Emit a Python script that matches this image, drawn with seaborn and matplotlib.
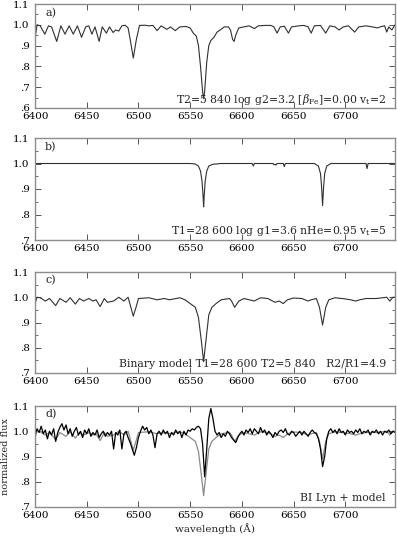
import numpy as np
import pandas as pd
import matplotlib
matplotlib.use("Agg")
import matplotlib.pyplot as plt
from matplotlib.ticker import MultipleLocator, FixedLocator, FixedFormatter
import seaborn as sns

# ---------------- data ----------------
# panel a: cool component model (T2 = 5840 K)
a_wave = [6400, 6402, 6405, 6409.5, 6413, 6416, 6421, 6425, 6429, 6433, 6437, 6441,
          6445, 6449, 6452, 6455, 6458, 6462, 6465, 6469, 6472, 6475.5, 6478, 6481,
          6484, 6487, 6490, 6492, 6495, 6498, 6501, 6506, 6510, 6514, 6518, 6522,
          6527.5, 6531, 6535.5, 6540, 6546, 6550, 6553, 6556, 6558, 6560, 6562, 6563,
          6564, 6566, 6568, 6570, 6573, 6576, 6579, 6583, 6587, 6589, 6591, 6592.5,
          6594, 6597, 6602, 6607, 6612, 6616, 6622, 6628, 6631, 6634, 6637, 6641,
          6645, 6648, 6655, 6660, 6664, 6667, 6670, 6676, 6681, 6685, 6690, 6694,
          6698, 6703, 6709, 6713, 6720, 6726, 6731, 6735, 6738, 6740, 6742, 6745, 6748]
a_flux = [0.935, 1.0, 0.995, 0.955, 0.995, 0.99, 0.92, 0.995, 0.955, 0.995, 0.955, 0.995,
          0.94, 0.99, 0.995, 0.955, 0.99, 0.92, 0.99, 0.96, 0.99, 0.963, 0.975, 0.97,
          0.995, 0.998, 0.985, 0.93, 0.84, 0.93, 0.997, 0.998, 0.995, 0.997, 0.972, 0.995,
          0.978, 0.99, 0.972, 0.99, 0.992, 0.985, 0.96, 0.945, 0.90, 0.80, 0.68, 0.645,
          0.68, 0.82, 0.90, 0.925, 0.94, 0.965, 0.975, 0.99, 0.99, 0.975, 0.93, 0.92,
          0.95, 0.985, 0.99, 0.995, 0.982, 0.995, 0.997, 0.997, 0.99, 0.96, 0.99, 0.993,
          0.96, 0.99, 0.995, 0.997, 0.99, 0.96, 0.995, 0.997, 0.96, 0.995, 0.99, 0.975,
          0.99, 0.995, 0.965, 0.99, 0.995, 0.99, 0.985, 0.992, 0.995, 0.965, 0.99, 0.975, 1.0]

# panel b: hot component model (T1 = 28600 K)
b_wave = [6400, 6550, 6555, 6558, 6560, 6561.5, 6562.5, 6563, 6563.5, 6564.5, 6566,
          6568, 6572, 6580, 6610, 6611, 6612, 6630, 6631, 6632, 6633, 6634, 6640,
          6641, 6642, 6670, 6674, 6676, 6677, 6678, 6679, 6680, 6682, 6686, 6720,
          6721, 6722, 6748]
b_flux = [1.0, 1.0, 0.998, 0.99, 0.97, 0.93, 0.87, 0.83, 0.87, 0.93, 0.97,
          0.99, 0.997, 1.0, 1.0, 0.99, 1.0, 1.0, 0.995, 0.997, 0.994, 1.0, 1.0,
          0.988, 1.0, 1.0, 0.99, 0.96, 0.91, 0.835, 0.91, 0.96, 0.99, 1.0, 1.0,
          0.98, 1.0, 1.0]

# panel c: binary model
c_wave = [6400, 6402, 6405, 6410, 6414, 6420, 6424, 6430, 6434, 6439, 6443, 6447,
          6452, 6456, 6459, 6463, 6467, 6470, 6476, 6481, 6486, 6490, 6492, 6495,
          6498, 6500, 6510, 6518, 6525, 6530, 6540, 6545, 6550, 6555, 6558, 6561,
          6563, 6565, 6568, 6571, 6575, 6580, 6588, 6590, 6593, 6597, 6602, 6607,
          6612, 6618, 6625, 6632, 6636, 6640, 6644, 6650, 6658, 6664, 6667, 6672,
          6675, 6678, 6681, 6684, 6690, 6697, 6705, 6710, 6714, 6720, 6730, 6740,
          6743, 6746, 6748]
c_flux = [0.975, 1.0, 0.998, 0.985, 0.995, 0.967, 0.995, 0.98, 0.998, 0.973, 0.995, 0.985,
          0.995, 0.985, 0.99, 0.963, 0.995, 0.98, 0.985, 1.0, 0.985, 1.0, 0.97, 0.925,
          0.965, 0.995, 0.998, 0.99, 0.995, 0.99, 0.998, 0.99, 0.975, 0.96, 0.92, 0.82,
          0.745, 0.82, 0.93, 0.96, 0.975, 0.99, 0.995, 0.985, 0.96, 0.985, 0.995, 0.99,
          0.985, 0.998, 0.995, 0.98, 0.985, 0.975, 0.99, 0.997, 0.995, 0.985, 0.99, 0.995,
          0.96, 0.89, 0.96, 0.99, 0.998, 0.995, 0.99, 0.985, 0.99, 0.995, 0.995, 1.0,
          0.985, 1.0, 1.0]

# panel d: observed spectrum of BI Lyn (2 A sampling)
d_wave = [6400, 6402, 6404, 6406, 6408, 6410, 6412, 6414, 6416, 6418,
          6420, 6422, 6424, 6426, 6428, 6430, 6432, 6434, 6436, 6438,
          6440, 6442, 6444, 6446, 6448, 6450, 6452, 6454, 6456, 6458,
          6460, 6462, 6464, 6466, 6468, 6470, 6472, 6474, 6476, 6478,
          6480, 6482, 6484, 6486, 6488, 6490, 6492, 6494, 6496, 6498,
          6500, 6502, 6504, 6506, 6508, 6510, 6512, 6514, 6516, 6518,
          6520, 6522, 6524, 6526, 6528, 6530, 6532, 6534, 6536, 6538,
          6540, 6542, 6544, 6546, 6548, 6550, 6552, 6554, 6556, 6558,
          6560, 6562, 6564, 6566, 6568, 6570, 6572, 6574, 6576, 6578,
          6580, 6582, 6584, 6586, 6588, 6590, 6592, 6594, 6596, 6598,
          6600, 6602, 6604, 6606, 6608, 6610, 6612, 6614, 6616, 6618,
          6620, 6622, 6624, 6626, 6628, 6630, 6632, 6634, 6636, 6638,
          6640, 6642, 6644, 6646, 6648, 6650, 6652, 6654, 6656, 6658,
          6660, 6662, 6664, 6666, 6668, 6670, 6672, 6674, 6676, 6678,
          6680, 6682, 6684, 6686, 6688, 6690, 6692, 6694, 6696, 6698,
          6700, 6702, 6704, 6706, 6708, 6710, 6712, 6714, 6716, 6718,
          6720, 6722, 6724, 6726, 6728, 6730, 6732, 6734, 6736, 6738,
          6740, 6742, 6744, 6746, 6748]
d_flux = [0.985, 1.01, 0.995, 1.02, 0.99, 1.005, 0.97, 1.0, 0.985, 1.01,
          0.96, 0.995, 1.015, 1.03, 1.005, 1.025, 0.99, 1.01, 0.98, 1.0,
          1.015, 0.985, 1.0, 0.975, 1.005, 0.99, 1.01, 0.98, 0.995, 0.985,
          1.005, 0.975, 0.99, 1.0, 0.98, 0.995, 0.985, 1.0, 0.93, 0.995,
          0.985, 1.005, 0.93, 0.99, 1.0, 0.975, 0.955, 0.93, 0.905, 0.935,
          0.975, 1.0, 1.02, 1.005, 1.015, 0.99, 1.005, 0.985, 0.935, 0.99,
          1.0, 0.985, 1.005, 0.99, 1.0, 0.975, 0.995, 0.985, 1.005, 0.99,
          1.0, 0.975, 1.0, 0.985, 1.005, 1.0, 1.01, 1.005, 1.015, 1.02,
          1.01, 0.95, 0.82, 0.93, 1.05, 1.09, 1.05, 1.0, 0.985, 0.995,
          0.975, 0.99, 0.98, 1.0, 0.99, 0.975, 0.965, 0.955, 0.975, 0.99,
          1.0, 0.985, 1.005, 0.995, 1.01, 0.99, 1.01, 1.0, 0.99, 1.015,
          0.995, 1.005, 0.985, 1.0, 0.99, 0.975, 0.995, 0.985, 1.0, 1.005,
          0.995, 1.01, 0.99, 0.985, 1.0, 0.995, 0.98, 0.99, 1.0, 0.985,
          1.0, 0.99, 0.98, 0.995, 1.005, 0.995, 0.99, 0.97, 0.93, 0.86,
          0.9, 0.97, 1.0, 1.01, 0.995, 1.005, 0.99, 1.01, 0.995, 1.0,
          0.985, 1.005, 0.995, 1.0, 0.99, 1.005, 0.995, 1.01, 0.99, 1.0,
          0.995, 1.005, 0.985, 1.0, 0.995, 1.005, 0.99, 1.0, 0.985, 1.0,
          0.995, 1.005, 0.99, 1.0, 0.995]

# annotations and tick labels
panel_tags = ["a)", "b)", "c)", "d)"]
panel_notes = [
    r"T2=5 840 log g2=3.2 [$\beta_{\rm Fe}$]=0.00 v$_{\rm t}$=2",
    r"T1=28 600 log g1=3.6 nHe=0.95 v$_{\rm t}$=5",
    "Binary model T1=28 600 T2=5 840   R2/R1=4.9",
    "BI Lyn + model",
]
x_ticks = [6400, 6450, 6500, 6550, 6600, 6650, 6700]
x_ticklabels = ["6400", "6450", "6500", "6550", "6600", "6650", "6700"]
y_ticks_a = [0.6, 0.7, 0.8, 0.9, 1.0, 1.1]
y_labels_a = [".6", ".7", ".8", ".9", "1.0", "1.1"]
y_ticks_bcd = [0.7, 0.8, 0.9, 1.0, 1.1]
y_labels_bcd = [".7", ".8", ".9", "1.0", "1.1"]

# ---------------- figure ----------------
sns.set_theme(style="ticks")
plt.rcParams["font.family"] = ["DejaVu Serif"]
plt.rcParams["mathtext.fontset"] = "dejavuserif"

W, H = 397, 543
fig = plt.figure(figsize=(W / 100, H / 100), dpi=100)
fig.patch.set_facecolor("white")

left_px, right_px = 35, 395
panels_px = [(4, 108), (138, 240), (272, 373), (406, 507)]
axes = []
for top, bot in panels_px:
    ax = fig.add_axes([left_px / W, 1 - bot / H, (right_px - left_px) / W, (bot - top) / H])
    axes.append(ax)

line_col = "#303030"
model_col = "#8a8a8a"

sns.lineplot(data=pd.DataFrame({"w": a_wave, "f": a_flux}), x="w", y="f",
             ax=axes[0], color=line_col, linewidth=0.8, estimator=None)
sns.lineplot(data=pd.DataFrame({"w": b_wave, "f": b_flux}), x="w", y="f",
             ax=axes[1], color=line_col, linewidth=0.8, estimator=None)
sns.lineplot(data=pd.DataFrame({"w": c_wave, "f": c_flux}), x="w", y="f",
             ax=axes[2], color=line_col, linewidth=0.8, estimator=None)
sns.lineplot(data=pd.DataFrame({"w": c_wave, "f": c_flux}), x="w", y="f",
             ax=axes[3], color=model_col, linewidth=0.9, estimator=None)
sns.lineplot(data=pd.DataFrame({"w": d_wave, "f": d_flux}), x="w", y="f",
             ax=axes[3], color="black", linewidth=0.9, estimator=None)

for i, ax in enumerate(axes):
    ax.set_xlim(6400, 6748)
    if i == 0:
        ax.set_ylim(0.6, 1.1)
        ax.yaxis.set_major_locator(FixedLocator(y_ticks_a))
        ax.yaxis.set_major_formatter(FixedFormatter(y_labels_a))
    else:
        ax.set_ylim(0.7, 1.1)
        ax.yaxis.set_major_locator(FixedLocator(y_ticks_bcd))
        ax.yaxis.set_major_formatter(FixedFormatter(y_labels_bcd))
    ax.yaxis.set_minor_locator(MultipleLocator(0.05))
    ax.xaxis.set_major_locator(FixedLocator(x_ticks))
    ax.xaxis.set_major_formatter(FixedFormatter(x_ticklabels))
    ax.tick_params(which="both", direction="in", top=True, right=True,
                   labelsize=7.5, colors="#555555", labelcolor="black")
    ax.tick_params(axis="y", pad=4)
    ax.tick_params(axis="x", pad=3)
    ax.tick_params(which="major", length=4, width=0.7)
    ax.tick_params(which="minor", length=2, width=0.6)
    ax.tick_params(axis="x", which="minor", bottom=False, top=False)
    for s in ax.spines.values():
        s.set_color("#8c8c8c")
        s.set_linewidth(1.0)
    ax.set_xlabel("")
    ax.set_ylabel("")
    ax.text(0.028, 0.915, panel_tags[i], transform=ax.transAxes, fontsize=8,
            ha="left", va="center")
    ax.text(0.975, 0.09 if i > 0 else 0.085, panel_notes[i], transform=ax.transAxes,
            fontsize=7.8, ha="right", va="center")

axes[3].set_xlabel("wavelength (Å)", fontsize=7.5, labelpad=2)
axes[3].set_ylabel("normalized flux", fontsize=7)
axes[3].yaxis.set_label_coords((10 - left_px) / (right_px - left_px), 0.5)

fig.savefig("out.png", dpi=100, facecolor="white")
